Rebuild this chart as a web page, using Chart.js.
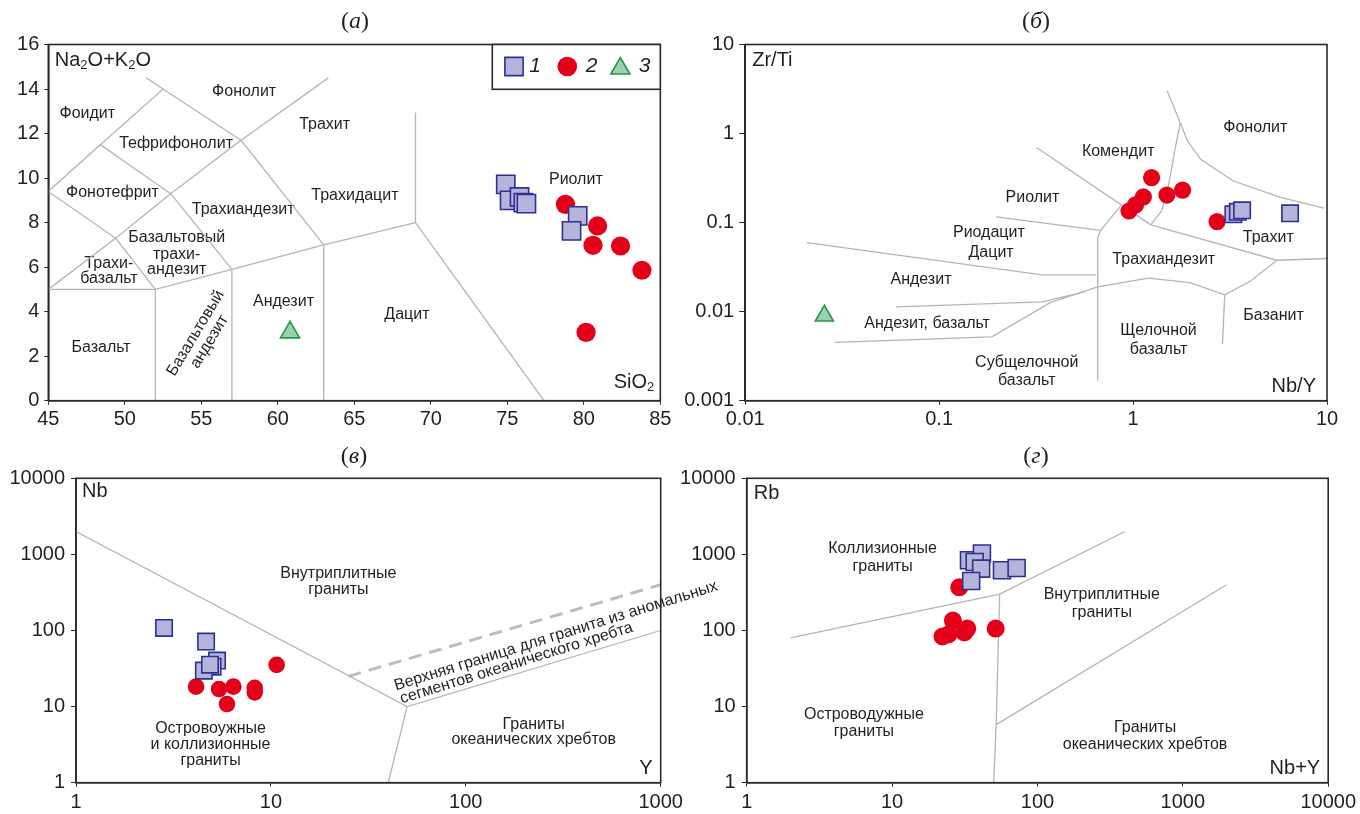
<!DOCTYPE html>
<html>
<head>
<meta charset="utf-8">
<script src="https://cdn.jsdelivr.net/npm/chart.js@4.4.1/dist/chart.umd.min.js"></script>
<style>
  html, body { margin: 0; padding: 0; background: #fff; }
  #wrap { position: relative; width: 1360px; height: 814px; overflow: hidden; }
  canvas { position: absolute; }
</style>
</head>
<body>
<div id="wrap">
  <canvas id="chA" width="680" height="440" style="left:0;top:0;width:680px;height:440px"></canvas>
  <canvas id="chB" width="680" height="440" style="left:680px;top:0;width:680px;height:440px"></canvas>
  <canvas id="chC" width="760" height="374" style="left:0;top:440px;width:760px;height:374px"></canvas>
  <canvas id="chD" width="680" height="374" style="left:680px;top:440px;width:680px;height:374px"></canvas>
</div>
<script>
// ---- (а) TAS: Na2O+K2O vs SiO2 ----
const tasXTicks = [45, 50, 55, 60, 65, 70, 75, 80, 85];
const tasYTicks = [0, 2, 4, 6, 8, 10, 12, 14, 16];
const tasGroup1 = [[74.9, 9.72], [75.15, 9.0], [75.8, 9.15], [76.05, 8.9], [76.25, 8.85], [79.6, 8.3], [79.2, 7.63]];
const tasGroup2 = [[78.8, 8.82], [80.9, 7.85], [80.6, 6.98], [82.4, 6.95], [83.8, 5.86], [80.15, 3.07]];
const tasGroup3 = [[60.8, 3.07]];
const tasLines = [
  [[45, 5], [52, 5]],
  [[52, 0], [52, 5]],
  [[52, 5], [57, 5.9], [63, 7], [69, 8]],
  [[57, 0], [57, 5.9]],
  [[63, 0], [63, 7]],
  [[69, 8], [69, 12.95]],
  [[69, 8], [77.4, 0]],
  [[45, 5], [49.4, 7.3], [52, 5]],
  [[45, 9.4], [49.4, 7.3], [53, 9.3], [57, 5.9]],
  [[45, 9.4], [48.4, 11.5], [53, 9.3], [57.6, 11.7], [63, 7]],
  [[48.4, 11.5], [52.5, 14], [57.6, 11.7], [63.3, 14.5]],
  [[52.5, 14], [51.4, 14.5]]
];

// ---- (б) Zr/Ti vs Nb/Y ----
const wfXTicks = [0.01, 0.1, 1, 10];
const wfYTicks = [0.001, 0.01, 0.1, 1, 10];
const wfGroup1 = [[3.29, 0.124], [3.47, 0.132], [3.65, 0.1375], [6.45, 0.127]];
const wfGroup2 = [[0.953, 0.135], [1.03, 0.158], [1.13, 0.194], [1.246, 0.32], [1.494, 0.204], [1.8, 0.232], [2.71, 0.1026]];
const wfGroup3 = [[0.0256, 0.00898]];
const wfLines = [
  [[0.319, 0.694], [1.234, 0.0942]],
  [[0.197, 0.1159], [0.681, 0.082]],
  [[0.681, 0.082], [0.864, 0.154]],
  [[0.681, 0.082], [0.657, 0.0679], [0.657, 0.00168]],
  [[0.0208, 0.0597], [0.339, 0.0259], [0.647, 0.0259]],
  [[0.0601, 0.01133], [0.339, 0.0129], [0.568, 0.0168]],
  [[0.0291, 0.00451], [0.187, 0.00522], [0.376, 0.01268], [0.657, 0.019], [1.2, 0.0238], [1.965, 0.0212], [2.97, 0.01545]],
  [[2.97, 0.01545], [2.89, 0.00432]],
  [[2.97, 0.01545], [4.05, 0.0222], [5.52, 0.0378]],
  [[1.234, 0.0942], [5.52, 0.0378], [10, 0.0395]],
  [[1.5, 3.0], [1.75, 1.32]],
  [[1.75, 1.32], [1.64, 0.637], [1.517, 0.247], [1.404, 0.135], [1.234, 0.0942]],
  [[1.75, 1.32], [1.91, 0.824], [2.23, 0.513], [3.29, 0.293], [5.81, 0.1906], [9.64, 0.145]]
];

// ---- (в) Nb vs Y ----
const nbXTicks = [1, 10, 100, 1000];
const nbYTicks = [1, 10, 100, 1000, 10000];
const nbGroup1 = [[2.83, 108], [4.65, 71.6], [5.29, 40.2], [5.02, 33.5], [4.53, 29.7], [4.87, 35.6]];
const nbGroup2 = [[4.13, 18.3], [5.42, 17.0], [6.42, 18.3], [5.95, 10.8], [8.26, 17.6], [8.26, 15.4], [10.7, 35.3]];
const nbLines = [
  [[1, 2000], [50, 10], [1000, 100]],
  [[50, 10], [40, 1]]
];
const nbDashed = [[25, 25], [1000, 400]];

// ---- (г) Rb vs Nb+Y ----
const rbXTicks = [1, 10, 100, 1000, 10000];
const rbYTicks = [1, 10, 100, 1000, 10000];
const rbGroup1 = [[33.8, 838], [41.5, 1026], [37.0, 795], [41.0, 650], [57.0, 618], [71.9, 663], [35.0, 447]];
const rbGroup2 = [[29.0, 369], [26.2, 135], [22.2, 83.4], [24.4, 88.6], [31.4, 94.1], [32.9, 106], [51.6, 106]];
const rbLines = [
  [[2, 80], [55, 300], [400, 2000]],
  [[55, 300], [52, 5.8], [50, 1]],
  [[52, 5.8], [2000, 400]]
];

const FONT = "'Liberation Sans', Arial, sans-serif";
const INK = '#231f20';
const AXIS = '#2a2a2a';
const LINE = '#b5b5b5';

const sqStyle = { pointStyle: 'rect', backgroundColor: '#b4b5da', borderColor: '#2e3192', borderWidth: 1.6 };
const ciStyle = { pointStyle: 'circle', backgroundColor: '#e30019', borderColor: '#e30019', borderWidth: 0 };
const trStyle = { pointStyle: 'triangle', backgroundColor: '#9ad2ad', borderColor: '#1f9a48', borderWidth: 1.6 };

function toXY(arr) { return arr.map(p => ({ x: p[0], y: p[1] })); }

function pointSet(arr, style, radius, order) {
  return Object.assign({ data: toXY(arr), pointRadius: radius, order: order }, style);
}

function lineSet(arr, dashed) {
  return {
    data: toXY(arr), showLine: true, pointRadius: 0, fill: false, tension: 0,
    borderColor: dashed ? '#bdbdbd' : LINE, borderWidth: dashed ? 3 : 1.3,
    borderDash: dashed ? [13, 8] : [], order: 2
  };
}

function axis(s, dir, size) {
  return {
    type: s.log ? 'logarithmic' : 'linear',
    min: s.ticks[0], max: s.ticks[s.ticks.length - 1],
    grid: { drawOnChartArea: false, drawTicks: true, tickLength: s.tl, color: AXIS, tickColor: AXIS, lineWidth: 1 },
    border: { display: true, color: AXIS, width: 1.6 },
    ticks: {
      autoSkip: false, maxRotation: 0, padding: s.pad, color: INK,
      font: { family: FONT, size: 20 },
      callback: v => String(v)
    },
    afterBuildTicks: sc => { sc.ticks = s.ticks.map(v => ({ value: v })); },
    afterFit: sc => { if (dir === 'x') sc.height = size; else sc.width = size; }
  };
}

// text with _2 subscripts
function drawRich(ctx, txt, x, y, align) {
  const parts = [];
  txt.split(/(_\d)/).forEach(p => { if (p) parts.push(p[0] === '_' ? { t: p.slice(1), sub: true } : { t: p, sub: false }); });
  const big = '20px ' + FONT, small = '13px ' + FONT;
  let w = 0;
  parts.forEach(p => { ctx.font = p.sub ? small : big; p.w = ctx.measureText(p.t).width; w += p.w; });
  let cx = align === 'right' ? x - w : x;
  ctx.textAlign = 'left';
  ctx.textBaseline = 'middle';
  parts.forEach(p => {
    ctx.font = p.sub ? small : big;
    ctx.fillText(p.t, cx, p.sub ? y + 5 : y);
    cx += p.w;
  });
}

function drawTitle(ctx, letter, cx, cy) {
  const up = '24px "Liberation Serif", serif', it = 'italic 24px "Liberation Serif", serif';
  const parts = [['(', up], [letter, it], [')', up]];
  let w = 0;
  parts.forEach(p => { ctx.font = p[1]; p.w = ctx.measureText(p[0]).width; w += p.w; });
  let x = cx - w / 2;
  ctx.textAlign = 'left';
  ctx.textBaseline = 'middle';
  parts.forEach(p => { ctx.font = p[1]; ctx.fillText(p[0], x, cy); x += p.w; });
}

function drawLegend(chart) {
  const { ctx, chartArea: a } = chart;
  const bx = a.right - 168, by = a.top, bw = 168, bh = 44.8;
  ctx.save();
  ctx.fillStyle = '#fff';
  ctx.fillRect(bx, by, bw, bh);
  ctx.strokeStyle = AXIS;
  ctx.lineWidth = 1.6;
  ctx.strokeRect(bx, by, bw, bh);
  const cy = by + 22;
  const items = [[sqStyle, 12.9, 21.7, '1', 42.7], [ciStyle, 9.8, 75, '2', 99.4], [trStyle, 11, 128, '3', 152.4]];
  items.forEach(it => {
    const st = it[0];
    ctx.fillStyle = st.backgroundColor;
    ctx.strokeStyle = st.borderColor;
    ctx.lineWidth = st.borderWidth;
    Chart.helpers.drawPoint(ctx, { pointStyle: st.pointStyle, radius: it[1], borderWidth: st.borderWidth, rotation: 0 }, bx + it[2], cy + (st.pointStyle === 'triangle' ? 2 : 0));
    ctx.fillStyle = INK;
    ctx.font = 'italic 21px ' + FONT;
    ctx.textAlign = 'center';
    ctx.textBaseline = 'middle';
    ctx.fillText(it[3], bx + it[4], cy);
  });
  ctx.restore();
}

function panelPlugin(cfg) {
  return {
    id: 'panel',
    beforeDatasetsDraw(chart) {
      const { ctx, scales: { x, y } } = chart;
      ctx.save();
      ctx.fillStyle = INK;
      ctx.font = '16px ' + FONT;
      ctx.textAlign = 'center';
      ctx.textBaseline = 'middle';
      cfg.labels.forEach(l => {
        const px = x.getPixelForValue(l[1]), py = y.getPixelForValue(l[2]);
        if (l[3]) {
          ctx.save();
          ctx.translate(px, py);
          ctx.rotate(l[3] * Math.PI / 180);
          ctx.fillText(l[0], 0, 0);
          ctx.restore();
        } else {
          ctx.fillText(l[0], px, py);
        }
      });
      ctx.restore();
    },
    afterDraw(chart) {
      const { ctx, chartArea: a } = chart;
      ctx.save();
      ctx.strokeStyle = AXIS;
      ctx.lineWidth = 1.6;
      ctx.strokeRect(a.left, a.top, a.right - a.left, a.bottom - a.top);
      ctx.fillStyle = INK;
      drawRich(ctx, cfg.yName, a.left + cfg.yNamePos[0], a.top + cfg.yNamePos[1], 'left');
      drawRich(ctx, cfg.xName, a.right - cfg.xNamePos[0], a.bottom - cfg.xNamePos[1], 'right');
      drawTitle(ctx, cfg.title, cfg.titlePos[0], cfg.titlePos[1]);
      ctx.restore();
      if (cfg.legend) drawLegend(chart);
    }
  };
}

function makePanel(cfg) {
  const datasets = [];
  cfg.points.forEach(p => datasets.push(p));
  cfg.lines.forEach(l => datasets.push(lineSet(l, false)));
  (cfg.dashed || []).forEach(l => datasets.push(lineSet(l, true)));
  return new Chart(document.getElementById(cfg.id), {
    type: 'scatter',
    data: { datasets },
    options: {
      responsive: false, animation: false, events: [],
      layout: { padding: cfg.pad },
      plugins: { legend: { display: false }, tooltip: { enabled: false } },
      scales: { x: axis(cfg.x, 'x', cfg.xH), y: axis(cfg.y, 'y', cfg.yW) }
    },
    plugins: [panelPlugin(cfg)]
  });
}

makePanel({
  id: 'chA', title: 'а', titlePos: [355, 22], legend: true,
  pad: { left: 0, top: 44.5, right: 19.7, bottom: 0 }, yW: 48.3, xH: 39.3,
  x: { ticks: tasXTicks, tl: 4, pad: 3 }, y: { ticks: tasYTicks, tl: 4, pad: 5 },
  yName: 'Na_2O+K_2O', yNamePos: [6.5, 16], xName: 'SiO_2', xNamePos: [6, 18],
  points: [pointSet(tasGroup1, sqStyle, 12.9, 0), pointSet(tasGroup2, ciStyle, 9.6, 1), pointSet(tasGroup3, trStyle, 11, 1)],
  lines: tasLines,
  labels: [
    ['Фоидит', 47.55, 12.88], ['Фонолит', 57.8, 13.88], ['Трахит', 63.06, 12.41],
    ['Тефрифонолит', 53.35, 11.54], ['Фонотефрит', 49.19, 9.35], ['Трахиандезит', 57.74, 8.57],
    ['Трахидацит', 65.04, 9.2], ['Базальтовый', 53.39, 7.33], ['трахи-', 53.39, 6.55],
    ['андезит', 53.39, 5.89], ['Трахи-', 48.96, 6.18], ['базальт', 48.96, 5.5],
    ['Андезит', 60.37, 4.44], ['Дацит', 68.44, 3.86], ['Базальт', 48.45, 2.39],
    ['Риолит', 79.48, 9.91], ['Базальтовый', 54.63, 3.03, -59], ['андезит', 55.53, 2.65, -59]
  ]
});

makePanel({
  id: 'chB', title: 'б', titlePos: [356, 22],
  pad: { left: 0, top: 44.5, right: 33, bottom: 0 }, yW: 65.2, xH: 39.3,
  x: { ticks: wfXTicks, log: true, tl: 4, pad: 3 }, y: { ticks: wfYTicks, log: true, tl: 6, pad: 5 },
  yName: 'Zr/Ti', yNamePos: [7, 16], xName: 'Nb/Y', xNamePos: [11, 14],
  points: [pointSet(wfGroup1, sqStyle, 11.6, 0), pointSet(wfGroup2, ciStyle, 8.6, 1), pointSet(wfGroup3, trStyle, 10.5, 1)],
  lines: wfLines,
  labels: [
    ['Фонолит', 4.27, 1.16], ['Комендит', 0.838, 0.626], ['Риолит', 0.303, 0.1906],
    ['Риодацит', 0.1805, 0.0773], ['Дацит', 0.1853, 0.0461], ['Трахит', 4.98, 0.0679],
    ['Трахиандезит', 1.44, 0.0388], ['Андезит', 0.0806, 0.0231], ['Андезит, базальт', 0.0867, 0.00736],
    ['Базанит', 5.3, 0.00898], ['Щелочной', 1.354, 0.0061], ['базальт', 1.354, 0.00379],
    ['Субщелочной', 0.283, 0.00269], ['базальт', 0.283, 0.0017]
  ]
});

makePanel({
  id: 'chC', title: 'в', titlePos: [354, 17],
  pad: { left: 0, top: 38.3, right: 99.3, bottom: 0 }, yW: 76, xH: 31.3,
  x: { ticks: nbXTicks, log: true, tl: 4, pad: 4 }, y: { ticks: nbYTicks, log: true, tl: 5, pad: 6 },
  yName: 'Nb', yNamePos: [6, 13], xName: 'Y', xNamePos: [8, 14],
  points: [pointSet(nbGroup1, sqStyle, 11.6, 0), pointSet(nbGroup2, ciStyle, 8.3, 1)],
  lines: nbLines, dashed: [nbDashed],
  labels: [
    ['Внутриплитные', 22.2, 559], ['граниты', 22.2, 347],
    ['Островоужные', 4.9, 5.21], ['и коллизионные', 4.9, 3.14], ['граниты', 4.9, 1.93],
    ['Граниты', 223, 5.88], ['океанических хребтов', 223, 3.65],
    ['Верхняя граница для гранита из аномальных', 290, 84.7, -17.3],
    ['сегментов океанического хребта', 182, 37.1, -17.3]
  ]
});

makePanel({
  id: 'chD', title: 'г', titlePos: [356, 17],
  pad: { left: 0, top: 38.3, right: 31.5, bottom: 0 }, yW: 66.7, xH: 31.3,
  x: { ticks: rbXTicks, log: true, tl: 4, pad: 4 }, y: { ticks: rbYTicks, log: true, tl: 5, pad: 6 },
  yName: 'Rb', yNamePos: [7, 15], xName: 'Nb+Y', xNamePos: [8, 14],
  points: [pointSet(rbGroup1, sqStyle, 12, 0), pointSet(rbGroup2, ciStyle, 9, 1)],
  lines: rbLines,
  labels: [
    ['Коллизионные', 8.6, 1194], ['граниты', 8.6, 698],
    ['Внутриплитные', 277, 298], ['граниты', 277, 171],
    ['Островодужные', 6.4, 7.96], ['граниты', 6.4, 4.66],
    ['Граниты', 550, 5.31], ['океанических хребтов', 550, 3.14]
  ]
});
</script>
</body>
</html>
